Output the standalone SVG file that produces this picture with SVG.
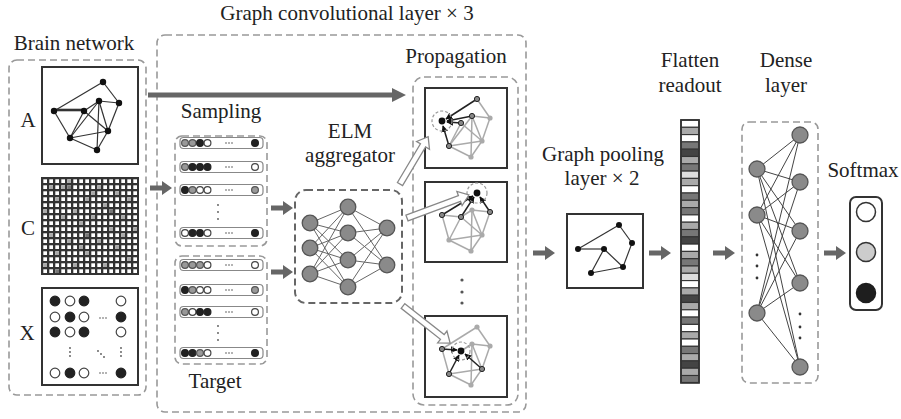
<svg xmlns="http://www.w3.org/2000/svg" width="901" height="419" viewBox="0 0 901 419">
<style>
text{font-family:"Liberation Serif","Times New Roman",serif;font-size:21px;fill:#222;text-anchor:middle}
.dash{fill:none;stroke:#999;stroke-width:1.6;stroke-dasharray:7 4}
.dashd{fill:none;stroke:#666;stroke-width:2;stroke-dasharray:7 4}
.box{fill:#fff;stroke:#333;stroke-width:2}
.ge{stroke:#333;stroke-width:1.2;fill:none}
.gn{fill:#111}
.le{stroke:#aaa;stroke-width:1.5;fill:none}
.ln{fill:#aaa}
.de{stroke:#222;stroke-width:1.5;fill:none;marker-end:url(#ah)}
.dn{fill:#888;stroke:#222;stroke-width:1}
.fc{fill:#111}
.ring{fill:none;stroke:#999;stroke-width:1.2;stroke-dasharray:3 2}
.row{fill:#fff;stroke:#888;stroke-width:1.2}
.cw{fill:#fff;stroke:#444;stroke-width:1.2}
.cb{fill:#222;stroke:#222;stroke-width:1.2}
.cg{fill:#999;stroke:#555;stroke-width:1.2}
.dot{fill:#555}
.nn{fill:#8a8a8a;stroke:#555;stroke-width:1.3}
.ne{stroke:#666;stroke-width:1}
.de2{stroke:#444;stroke-width:1}
.garr{fill:#666}
.harr{fill:#fff;stroke:#888;stroke-width:1.3}
.fl{stroke:#333;stroke-width:1.1}
</style>
<defs>
<marker id="ah" viewBox="0 0 10 10" refX="9" refY="5" markerWidth="4.5" markerHeight="4.5" orient="auto"><path d="M0,0 L10,5 L0,10 z" fill="#111"/></marker>
<path id="garrow" d="M0,-2.6 H12 V-7 L22,0 L12,7 V2.6 H0 Z"/>
<pattern id="grid" x="42" y="178" width="6" height="6" patternUnits="userSpaceOnUse"><rect width="6" height="6" fill="#333"/><rect x="1.3" y="1.3" width="3.7" height="3.7" fill="#fff"/></pattern>
</defs>

<text x="347" y="20">Graph convolutional layer × 3</text>
<rect class="dash" x="157" y="35" width="369" height="377" rx="8"/>

<g id="brain-network">
<text x="74" y="50">Brain network</text>
<rect class="dash" x="9" y="60" width="137" height="335" rx="8"/>
<text x="28" y="127">A</text>
<rect class="box" x="42" y="67" width="96" height="97"/>
<g class="ge">
<line x1="54" y1="111" x2="103" y2="82"/><line x1="103" y1="82" x2="119" y2="103"/>
<line x1="54" y1="110" x2="84" y2="110" stroke-width="2.6"/><line x1="54" y1="111" x2="70" y2="138"/>
<line x1="70" y1="138" x2="97" y2="150"/><line x1="97" y1="150" x2="108" y2="131"/>
<line x1="108" y1="131" x2="119" y2="103"/><line x1="84" y1="111" x2="99" y2="101"/>
<line x1="99" y1="101" x2="119" y2="103"/><line x1="99" y1="101" x2="108" y2="131"/>
<line x1="84" y1="111" x2="70" y2="138"/><line x1="70" y1="138" x2="108" y2="131"/>
<line x1="84" y1="111" x2="108" y2="131"/><line x1="99" y1="101" x2="70" y2="138"/>
<line x1="99" y1="101" x2="97" y2="150"/>
</g>
<g class="gn">
<circle cx="103" cy="82" r="3.2"/><circle cx="54" cy="111" r="3.2"/><circle cx="84" cy="111" r="3.2"/>
<circle cx="99" cy="101" r="3.2"/><circle cx="119" cy="103" r="3.2"/><circle cx="70" cy="138" r="3.2"/>
<circle cx="108" cy="131" r="3.2"/><circle cx="97" cy="150" r="3.2"/>
</g>
<text x="28" y="235">C</text>
<rect x="42" y="178" width="96" height="96" fill="url(#grid)"/>
<g fill="#aaa">
<rect x="49.3" y="185.3" width="3.7" height="3.7"/><rect x="67.3" y="179.3" width="3.7" height="3.7"/>
<rect x="97.3" y="185.3" width="3.7" height="3.7"/><rect x="115.3" y="191.3" width="3.7" height="3.7"/>
<rect x="55.3" y="197.3" width="3.7" height="3.7"/><rect x="85.3" y="197.3" width="3.7" height="3.7"/>
<rect x="127.3" y="197.3" width="3.7" height="3.7"/><rect x="43.3" y="209.3" width="3.7" height="3.7"/>
<rect x="73.3" y="209.3" width="3.7" height="3.7"/><rect x="103.3" y="203.3" width="3.7" height="3.7"/>
<rect x="61.3" y="215.3" width="3.7" height="3.7"/><rect x="91.3" y="215.3" width="3.7" height="3.7"/>
<rect x="121.3" y="215.3" width="3.7" height="3.7"/><rect x="79.3" y="221.3" width="3.7" height="3.7"/>
<rect x="109.3" y="227.3" width="3.7" height="3.7"/><rect x="49.3" y="233.3" width="3.7" height="3.7"/>
<rect x="133.3" y="227.3" width="3.7" height="3.7"/><rect x="67.3" y="239.3" width="3.7" height="3.7"/>
<rect x="97.3" y="239.3" width="3.7" height="3.7"/><rect x="115.3" y="245.3" width="3.7" height="3.7"/>
<rect x="55.3" y="251.3" width="3.7" height="3.7"/><rect x="85.3" y="251.3" width="3.7" height="3.7"/>
<rect x="127.3" y="257.3" width="3.7" height="3.7"/><rect x="73.3" y="263.3" width="3.7" height="3.7"/>
<rect x="103.3" y="263.3" width="3.7" height="3.7"/><rect x="43.3" y="263.3" width="3.7" height="3.7"/>
<rect x="91.3" y="191.3" width="3.7" height="3.7"/><rect x="61.3" y="185.3" width="3.7" height="3.7"/>
<rect x="121.3" y="233.3" width="3.7" height="3.7"/><rect x="79.3" y="245.3" width="3.7" height="3.7"/>
</g>
<g fill="#777">
<rect x="67.3" y="185.3" width="3.7" height="3.7"/><rect x="85.3" y="233.3" width="3.7" height="3.7"/>
<rect x="109.3" y="209.3" width="3.7" height="3.7"/><rect x="55.3" y="269.3" width="3.7" height="3.7"/>
</g>
<rect x="42" y="178" width="96" height="96" fill="none" stroke="#333" stroke-width="2"/>
<text x="27" y="340">X</text>
<rect class="box" x="42" y="288" width="96" height="97"/>
<circle class="cb" cx="55" cy="301" r="4.8"/><circle class="cw" cx="70" cy="301" r="4.8"/><circle class="cb" cx="84" cy="301" r="4.8"/><circle class="cw" cx="121" cy="301" r="4.8"/>
<circle class="cw" cx="55" cy="317" r="4.8"/><circle class="cb" cx="70" cy="317" r="4.8"/><circle class="cw" cx="84" cy="317" r="4.8"/><circle class="cb" cx="121" cy="317" r="4.8"/>
<circle class="cb" cx="55" cy="332" r="4.8"/><circle class="cw" cx="70" cy="332" r="4.8"/><circle class="cb" cx="84" cy="332" r="4.8"/><circle class="cw" cx="121" cy="332" r="4.8"/>
<circle class="cw" cx="55" cy="373" r="4.8"/><circle class="cb" cx="70" cy="373" r="4.8"/><circle class="cw" cx="84" cy="373" r="4.8"/><circle class="cb" cx="121" cy="373" r="4.8"/>
<g class="dot">
<circle cx="100" cy="318" r="0.8"/><circle cx="103" cy="318" r="0.8"/><circle cx="106" cy="318" r="0.8"/>
<circle cx="100" cy="373" r="0.8"/><circle cx="103" cy="373" r="0.8"/><circle cx="106" cy="373" r="0.8"/>
<circle cx="70" cy="348" r="0.9"/><circle cx="70" cy="352" r="0.9"/><circle cx="70" cy="356" r="0.9"/>
<circle cx="98" cy="351" r="0.9"/><circle cx="101" cy="354" r="0.9"/><circle cx="104" cy="357" r="0.9"/>
<circle cx="121" cy="348" r="0.9"/><circle cx="121" cy="352" r="0.9"/><circle cx="121" cy="356" r="0.9"/>
</g>
</g>

<g id="sampling">
<text x="221" y="118">Sampling</text>
<rect class="dash" x="175" y="136" width="92" height="110" rx="7"/>
<rect class="row" x="180" y="137.5" width="83" height="11" rx="3.5"/>
<circle class="cg" cx="185" cy="143" r="3.4"/><circle class="cg" cx="192.5" cy="143" r="3.4"/><circle class="cb" cx="200" cy="143" r="3.4"/><circle class="cw" cx="207.5" cy="143" r="3.4"/><circle class="cb" cx="255" cy="143" r="3.4"/>
<rect class="row" x="180" y="161.5" width="83" height="11" rx="3.5"/>
<circle class="cg" cx="185" cy="167" r="3.4"/><circle class="cb" cx="192.5" cy="167" r="3.4"/><circle class="cb" cx="200" cy="167" r="3.4"/><circle class="cb" cx="207.5" cy="167" r="3.4"/><circle class="cw" cx="255" cy="167" r="3.4"/>
<rect class="row" x="180" y="184.5" width="83" height="11" rx="3.5"/>
<circle class="cb" cx="185" cy="190" r="3.4"/><circle class="cg" cx="192.5" cy="190" r="3.4"/><circle class="cw" cx="200" cy="190" r="3.4"/><circle class="cw" cx="207.5" cy="190" r="3.4"/><circle class="cg" cx="255" cy="190" r="3.4"/>
<rect class="row" x="180" y="227.5" width="83" height="11" rx="3.5"/>
<circle class="cw" cx="185" cy="233" r="3.4"/><circle class="cb" cx="192.5" cy="233" r="3.4"/><circle class="cb" cx="200" cy="233" r="3.4"/><circle class="cw" cx="207.5" cy="233" r="3.4"/><circle class="cb" cx="255" cy="233" r="3.4"/>
<g class="dot">
<circle cx="226" cy="143" r="0.8"/><circle cx="229" cy="143" r="0.8"/><circle cx="232" cy="143" r="0.8"/>
<circle cx="226" cy="167" r="0.8"/><circle cx="229" cy="167" r="0.8"/><circle cx="232" cy="167" r="0.8"/>
<circle cx="226" cy="190" r="0.8"/><circle cx="229" cy="190" r="0.8"/><circle cx="232" cy="190" r="0.8"/>
<circle cx="226" cy="233" r="0.8"/><circle cx="229" cy="233" r="0.8"/><circle cx="232" cy="233" r="0.8"/>
<circle cx="218" cy="205" r="0.9"/><circle cx="218" cy="212" r="0.9"/><circle cx="218" cy="219" r="0.9"/>
</g>
</g>

<g id="target">
<rect class="dash" x="175" y="256" width="92" height="108" rx="7"/>
<rect class="row" x="180" y="259.5" width="83" height="11" rx="3.5"/>
<circle class="cg" cx="185" cy="265" r="3.4"/><circle class="cg" cx="192.5" cy="265" r="3.4"/><circle class="cg" cx="200" cy="265" r="3.4"/><circle class="cw" cx="207.5" cy="265" r="3.4"/><circle class="cw" cx="255" cy="265" r="3.4"/>
<rect class="row" x="180" y="284.5" width="83" height="11" rx="3.5"/>
<circle class="cb" cx="185" cy="290" r="3.4"/><circle class="cg" cx="192.5" cy="290" r="3.4"/><circle class="cw" cx="200" cy="290" r="3.4"/><circle class="cw" cx="207.5" cy="290" r="3.4"/><circle class="cg" cx="255" cy="290" r="3.4"/>
<rect class="row" x="180" y="306.5" width="83" height="11" rx="3.5"/>
<circle class="cg" cx="185" cy="312" r="3.4"/><circle class="cw" cx="192.5" cy="312" r="3.4"/><circle class="cb" cx="200" cy="312" r="3.4"/><circle class="cb" cx="207.5" cy="312" r="3.4"/><circle class="cw" cx="255" cy="312" r="3.4"/>
<rect class="row" x="180" y="347.5" width="83" height="11" rx="3.5"/>
<circle class="cb" cx="185" cy="353" r="3.4"/><circle class="cb" cx="192.5" cy="353" r="3.4"/><circle class="cg" cx="200" cy="353" r="3.4"/><circle class="cw" cx="207.5" cy="353" r="3.4"/><circle class="cb" cx="255" cy="353" r="3.4"/>
<g class="dot">
<circle cx="226" cy="265" r="0.8"/><circle cx="229" cy="265" r="0.8"/><circle cx="232" cy="265" r="0.8"/>
<circle cx="226" cy="290" r="0.8"/><circle cx="229" cy="290" r="0.8"/><circle cx="232" cy="290" r="0.8"/>
<circle cx="226" cy="312" r="0.8"/><circle cx="229" cy="312" r="0.8"/><circle cx="232" cy="312" r="0.8"/>
<circle cx="226" cy="353" r="0.8"/><circle cx="229" cy="353" r="0.8"/><circle cx="232" cy="353" r="0.8"/>
<circle cx="218" cy="326" r="0.9"/><circle cx="218" cy="333" r="0.9"/><circle cx="218" cy="340" r="0.9"/>
</g>
<text x="215" y="388">Target</text>
</g>

<g id="elm-aggregator">
<text x="350" y="138">ELM</text>
<text x="350" y="162">aggregator</text>
<rect class="dashd" x="295" y="190" width="107" height="113" rx="11"/>
<g class="ne">
<line x1="310" y1="223" x2="348" y2="207"/><line x1="310" y1="223" x2="348" y2="233"/><line x1="310" y1="223" x2="348" y2="260"/><line x1="310" y1="223" x2="348" y2="287"/>
<line x1="310" y1="248" x2="348" y2="207"/><line x1="310" y1="248" x2="348" y2="233"/><line x1="310" y1="248" x2="348" y2="260"/><line x1="310" y1="248" x2="348" y2="287"/>
<line x1="310" y1="274" x2="348" y2="207"/><line x1="310" y1="274" x2="348" y2="233"/><line x1="310" y1="274" x2="348" y2="260"/><line x1="310" y1="274" x2="348" y2="287"/>
<line x1="348" y1="207" x2="387" y2="228"/><line x1="348" y1="207" x2="387" y2="265"/>
<line x1="348" y1="233" x2="387" y2="228"/><line x1="348" y1="233" x2="387" y2="265"/>
<line x1="348" y1="260" x2="387" y2="228"/><line x1="348" y1="260" x2="387" y2="265"/>
<line x1="348" y1="287" x2="387" y2="228"/><line x1="348" y1="287" x2="387" y2="265"/>
</g>
<g class="nn">
<circle cx="310" cy="223" r="7.8"/><circle cx="310" cy="248" r="7.8"/><circle cx="310" cy="274" r="7.8"/>
<circle cx="348" cy="207" r="7.8"/><circle cx="348" cy="233" r="7.8"/><circle cx="348" cy="260" r="7.8"/><circle cx="348" cy="287" r="7.8"/>
<circle cx="387" cy="228" r="7.8"/><circle cx="387" cy="265" r="7.8"/>
</g>
</g>

<g id="propagation">
<text x="456" y="63">Propagation</text>
<rect class="dash" x="413" y="77" width="105" height="328" rx="11"/>
<g id="prop-1">
<rect class="box" x="425" y="88" width="82" height="80" stroke-width="1.8"/>
<g class="le">
<line x1="490" y1="118" x2="472" y2="116"/><line x1="490" y1="118" x2="482" y2="141"/><line x1="472" y1="116" x2="482" y2="141"/>
<line x1="461" y1="123" x2="482" y2="141"/><line x1="449" y1="146" x2="482" y2="141"/><line x1="449" y1="146" x2="471" y2="157"/>
<line x1="471" y1="157" x2="482" y2="141"/><line x1="472" y1="116" x2="471" y2="157"/><line x1="472" y1="116" x2="449" y2="146"/>
<line x1="461" y1="123" x2="449" y2="146"/><line x1="477" y1="99" x2="490" y2="118"/>
</g>
<g class="ln"><circle cx="490" cy="118" r="2.6"/><circle cx="482" cy="141" r="2.6"/><circle cx="471" cy="157" r="2.6"/></g>
<g class="de">
<line x1="477" y1="99" x2="446" y2="119"/><line x1="472" y1="116" x2="447" y2="121"/>
<line x1="461" y1="123" x2="447" y2="122"/><line x1="449" y1="146" x2="443" y2="126"/>
</g>
<g class="dn"><circle cx="477" cy="99" r="2.6"/><circle cx="472" cy="116" r="2.6"/><circle cx="461" cy="123" r="2.6"/><circle cx="449" cy="146" r="2.6"/></g>
<circle class="fc" cx="442" cy="121" r="3.4"/>
<circle class="ring" cx="442" cy="121" r="10"/>
</g>
<g id="prop-2">
<rect class="box" x="425" y="182" width="82" height="80" stroke-width="1.8"/>
<g class="le">
<line x1="442" y1="215" x2="461" y2="217"/><line x1="442" y1="215" x2="449" y2="240"/><line x1="461" y1="217" x2="472" y2="210"/>
<line x1="472" y1="210" x2="490" y2="212"/><line x1="472" y1="210" x2="482" y2="235"/><line x1="490" y1="212" x2="482" y2="235"/>
<line x1="461" y1="217" x2="482" y2="235"/><line x1="449" y1="240" x2="482" y2="235"/><line x1="449" y1="240" x2="471" y2="251"/>
<line x1="471" y1="251" x2="482" y2="235"/><line x1="472" y1="210" x2="471" y2="251"/><line x1="461" y1="217" x2="449" y2="240"/>
</g>
<g class="ln"><circle cx="472" cy="210" r="2.6"/><circle cx="449" cy="240" r="2.6"/><circle cx="482" cy="235" r="2.6"/><circle cx="471" cy="251" r="2.6"/></g>
<g class="de">
<line x1="442" y1="215" x2="473" y2="196"/><line x1="461" y1="217" x2="474" y2="197"/><line x1="490" y1="212" x2="480" y2="197"/>
</g>
<g class="dn"><circle cx="442" cy="215" r="2.6"/><circle cx="461" cy="217" r="2.6"/><circle cx="490" cy="212" r="2.6"/></g>
<circle class="fc" cx="477" cy="193" r="3.4"/>
<circle class="ring" cx="477" cy="193" r="10"/>
</g>
<g class="dot"><circle cx="462" cy="280" r="1.6"/><circle cx="462" cy="292" r="1.6"/><circle cx="462" cy="303" r="1.6"/></g>
<g id="prop-3">
<rect class="box" x="425" y="316" width="82" height="81" stroke-width="1.8"/>
<g class="le">
<line x1="442" y1="349" x2="477" y2="327"/><line x1="477" y1="327" x2="490" y2="346"/><line x1="442" y1="349" x2="449" y2="374"/>
<line x1="449" y1="374" x2="471" y2="385"/><line x1="471" y1="385" x2="482" y2="369"/><line x1="482" y1="369" x2="490" y2="346"/>
<line x1="472" y1="344" x2="490" y2="346"/><line x1="472" y1="344" x2="482" y2="369"/><line x1="472" y1="344" x2="471" y2="385"/>
<line x1="449" y1="374" x2="482" y2="369"/><line x1="461" y1="351" x2="472" y2="344"/>
</g>
<g class="ln"><circle cx="477" cy="327" r="2.6"/><circle cx="490" cy="346" r="2.6"/><circle cx="471" cy="385" r="2.6"/><circle cx="472" cy="344" r="2.6"/></g>
<g class="de">
<line x1="442" y1="349" x2="457" y2="350"/><line x1="449" y1="374" x2="459" y2="355"/><line x1="482" y1="369" x2="465" y2="354"/>
</g>
<g class="dn"><circle cx="442" cy="349" r="2.6"/><circle cx="449" cy="374" r="2.6"/><circle cx="482" cy="369" r="2.6"/></g>
<circle class="fc" cx="461" cy="351" r="3.4"/>
<circle class="ring" cx="461" cy="351" r="9"/>
</g>
</g>

<g id="graph-pooling">
<text x="603" y="161">Graph pooling</text>
<text x="602" y="185">layer × 2</text>
<rect class="box" x="567" y="214" width="76" height="74" stroke-width="1.8"/>
<g class="ge">
<line x1="578" y1="249" x2="619" y2="225"/><line x1="619" y1="225" x2="632" y2="243"/><line x1="632" y1="243" x2="623" y2="267"/>
<line x1="623" y1="267" x2="604" y2="249"/><line x1="604" y1="249" x2="578" y2="249"/><line x1="604" y1="249" x2="591" y2="273"/>
<line x1="591" y1="273" x2="623" y2="267"/>
</g>
<g class="gn"><circle cx="619" cy="225" r="3"/><circle cx="632" cy="243" r="3"/><circle cx="578" cy="249" r="3"/><circle cx="604" cy="249" r="3"/><circle cx="623" cy="267" r="3"/><circle cx="591" cy="273" r="3"/></g>
</g>

<g id="flatten-readout">
<text x="690" y="67">Flatten</text>
<text x="690" y="92">readout</text>
<g class="fl">
<rect x="681" y="120" width="18" height="7.3" fill="#fff"/><rect x="681" y="127.3" width="18" height="7.3" fill="#aaa"/>
<rect x="681" y="134.6" width="18" height="7.3" fill="#fff"/><rect x="681" y="141.9" width="18" height="7.3" fill="#777"/>
<rect x="681" y="149.2" width="18" height="7.3" fill="#444"/><rect x="681" y="156.5" width="18" height="7.3" fill="#aaa"/>
<rect x="681" y="163.8" width="18" height="7.3" fill="#777"/><rect x="681" y="171.1" width="18" height="7.3" fill="#ddd"/>
<rect x="681" y="178.4" width="18" height="7.3" fill="#aaa"/><rect x="681" y="185.7" width="18" height="7.3" fill="#fff"/>
<rect x="681" y="193" width="18" height="7.3" fill="#777"/><rect x="681" y="200.3" width="18" height="7.3" fill="#aaa"/>
<rect x="681" y="207.6" width="18" height="7.3" fill="#777"/><rect x="681" y="214.9" width="18" height="7.3" fill="#fff"/>
<rect x="681" y="222.2" width="18" height="7.3" fill="#aaa"/><rect x="681" y="229.5" width="18" height="7.3" fill="#777"/>
<rect x="681" y="236.8" width="18" height="7.3" fill="#444"/><rect x="681" y="244.1" width="18" height="7.3" fill="#fff"/>
<rect x="681" y="251.4" width="18" height="7.3" fill="#aaa"/><rect x="681" y="258.7" width="18" height="7.3" fill="#777"/>
<rect x="681" y="266" width="18" height="7.3" fill="#aaa"/><rect x="681" y="273.3" width="18" height="7.3" fill="#ddd"/>
<rect x="681" y="280.6" width="18" height="7.3" fill="#fff"/><rect x="681" y="287.9" width="18" height="7.3" fill="#aaa"/>
<rect x="681" y="295.2" width="18" height="7.3" fill="#444"/><rect x="681" y="302.5" width="18" height="7.3" fill="#aaa"/>
<rect x="681" y="309.8" width="18" height="7.3" fill="#fff"/><rect x="681" y="317.1" width="18" height="7.3" fill="#777"/>
<rect x="681" y="324.4" width="18" height="7.3" fill="#fff"/><rect x="681" y="331.7" width="18" height="7.3" fill="#aaa"/>
<rect x="681" y="339" width="18" height="7.3" fill="#fff"/><rect x="681" y="346.3" width="18" height="7.3" fill="#777"/>
<rect x="681" y="353.6" width="18" height="7.3" fill="#aaa"/><rect x="681" y="360.9" width="18" height="7.3" fill="#444"/>
<rect x="681" y="368.2" width="18" height="7.3" fill="#aaa"/><rect x="681" y="375.5" width="18" height="7.3" fill="#777"/>
</g>
<rect x="681" y="120" width="18" height="262.8" fill="none" stroke="#333" stroke-width="1.8"/>
</g>

<g id="dense-layer">
<text x="786" y="67">Dense</text>
<text x="786" y="92">layer</text>
<rect class="dash" x="742" y="122" width="76" height="261" rx="7"/>
<g class="de2">
<line x1="757" y1="169" x2="800" y2="135"/><line x1="757" y1="169" x2="800" y2="182"/><line x1="757" y1="169" x2="800" y2="231"/><line x1="757" y1="169" x2="800" y2="283"/><line x1="757" y1="169" x2="800" y2="367"/>
<line x1="757" y1="215" x2="800" y2="135"/><line x1="757" y1="215" x2="800" y2="182"/><line x1="757" y1="215" x2="800" y2="231"/><line x1="757" y1="215" x2="800" y2="283"/><line x1="757" y1="215" x2="800" y2="367"/>
<line x1="757" y1="313" x2="800" y2="135"/><line x1="757" y1="313" x2="800" y2="182"/><line x1="757" y1="313" x2="800" y2="231"/><line x1="757" y1="313" x2="800" y2="283"/><line x1="757" y1="313" x2="800" y2="367"/>
</g>
<g class="nn">
<circle cx="757" cy="169" r="8"/><circle cx="757" cy="215" r="8"/><circle cx="757" cy="313" r="8"/>
<circle cx="800" cy="135" r="8"/><circle cx="800" cy="182" r="8"/><circle cx="800" cy="231" r="8"/><circle cx="800" cy="283" r="8"/><circle cx="800" cy="367" r="8"/>
</g>
<g fill="#333">
<circle cx="757" cy="255" r="1.4"/><circle cx="757" cy="266" r="1.4"/><circle cx="757" cy="278" r="1.4"/>
<circle cx="800" cy="314" r="1.4"/><circle cx="800" cy="327" r="1.4"/><circle cx="800" cy="338" r="1.4"/>
</g>
</g>

<g id="softmax">
<text x="863" y="177">Softmax</text>
<rect x="850" y="197" width="32" height="113" rx="6" fill="#fff" stroke="#333" stroke-width="2"/>
<circle cx="866" cy="212" r="9.5" fill="#fff" stroke="#333" stroke-width="1.5"/>
<circle cx="866" cy="252" r="9.5" fill="#ccc" stroke="#333" stroke-width="1.5"/>
<circle cx="866" cy="293" r="9.5" fill="#1e1e1e" stroke="#1e1e1e" stroke-width="1.5"/>
</g>

<g id="connectors">
<path class="garr" d="M148,92.5 H392 V88 L406,95 L392,102 V97.5 H148 Z"/>
<use href="#garrow" class="garr" transform="translate(150,188)"/>
<use href="#garrow" class="garr" transform="translate(271,208)"/>
<use href="#garrow" class="garr" transform="translate(271,272)"/>
<use href="#garrow" class="garr" transform="translate(533,253)"/>
<use href="#garrow" class="garr" transform="translate(649,253)"/>
<use href="#garrow" class="garr" transform="translate(713,253)"/>
<use href="#garrow" class="garr" transform="translate(824,253)"/>
<path class="harr" transform="translate(400,184) rotate(-59.2)" d="M0,-3 H45 V-7.5 L55,0 L45,7.5 V3 H0 Z"/>
<path class="harr" transform="translate(407,218) rotate(-20.4)" d="M0,-3 H56 V-7.5 L66,0 L56,7.5 V3 H0 Z"/>
<path class="harr" transform="translate(403,306) rotate(38.2)" d="M0,-3 H50 V-7.5 L60,0 L50,7.5 V3 H0 Z"/>
</g>
</svg>
